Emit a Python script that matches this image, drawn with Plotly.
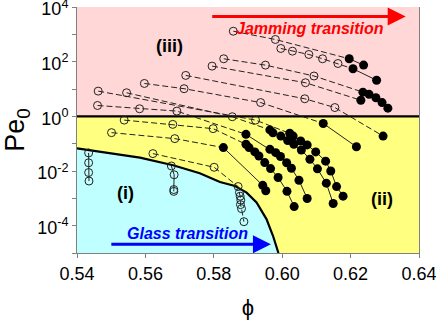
import plotly.graph_objects as go

# limiti del diagramma
phi_min, phi_max = 0.54, 0.64
pe_min, pe_max = 1e-5, 1e4

# confine della regione vetrosa (i)
boundary_phi = [0.540, 0.5487, 0.5584, 0.5681, 0.5759, 0.5818, 0.5862, 0.5896, 0.5925, 0.5954, 0.5973, 0.5989]
boundary_pe = [0.0676, 0.0468, 0.0309, 0.0162, 0.00832, 0.00398, 0.00282, 0.00162, 0.000708, 0.000174, 4.27e-5, 1e-5]

# serie: punti aperti (linea tratteggiata) e punti pieni (linea continua)
s1_open_phi = [0.5857, 0.5980]
s1_open_pe = [1306, 650]
s1_fill_phi = [0.6196, 0.6238]
s1_fill_pe = [128, 75]

s2_open_phi = [0.5996, 0.6030, 0.6078, 0.6118, 0.6163]
s2_open_pe = [305, 243, 184, 128, 86]
s2_fill_phi = [0.6207, 0.6276]
s2_fill_pe = [55, 21]

s3_open_phi = [0.5829, 0.5951, 0.6093]
s3_open_pe = [128, 75, 30]
s3_fill_phi = [0.6236, 0.6254, 0.6274, 0.6292, 0.6309]
s3_fill_pe = [7.7, 6.4, 4.8, 3.2, 2.0]

s4_open_phi = [0.5795, 0.6068]
s4_open_pe = [69, 17]
s4_fill_phi = [0.6230]
s4_fill_pe = [3.9]

s5_open_phi = [0.5718, 0.6066, 0.6154]
s5_open_pe = [31.5, 4.4, 2.1]
s5_fill_phi = [0.6295]
s5_fill_pe = [0.19]

s6_open_phi = [0.5597, 0.5713, 0.5937]
s6_open_pe = [16, 10.3, 3.2]
s6_fill_phi = [0.6120, 0.6217]
s6_fill_pe = [0.55, 0.077]

s7_open_phi = [0.5462, 0.5922]
s7_open_pe = [8.4, 0.73]
s7_fill_phi = [0.6022, 0.6032, 0.6054, 0.6073, 0.6098, 0.6127, 0.6142, 0.6159, 0.6178]
s7_fill_pe = [0.24, 0.19, 0.125, 0.09, 0.05, 0.023, 0.010, 0.0027, 0.0012]

s8_open_phi = [0.5545, 0.5854]
s8_open_pe = [7.3, 0.97]
s8_fill_phi = [0.5964, 0.5973, 0.5996, 0.6016, 0.6034, 0.6056, 0.6081, 0.6103, 0.6129, 0.6149]
s8_fill_pe = [0.32, 0.25, 0.19, 0.13, 0.095, 0.059, 0.027, 0.012, 0.0036, 0.00065]

s9_open_phi = [0.5460, 0.5583, 0.5692]
s9_open_pe = [2.5, 1.9, 1.56]
s9_fill_phi = [0.5894, 0.5964, 0.5981, 0.5995, 0.6013, 0.6027, 0.6049, 0.6073]
s9_fill_pe = [0.22, 0.062, 0.047, 0.034, 0.020, 0.0126, 0.0046, 0.00099]

s10_open_phi = [0.5538, 0.5680, 0.5798]
s10_open_pe = [0.73, 0.51, 0.355]
s10_fill_phi = [0.5894, 0.5903, 0.5920, 0.5932, 0.5949, 0.5966, 0.5988, 0.6014, 0.6035]
s10_fill_pe = [0.095, 0.072, 0.050, 0.0355, 0.0204, 0.0123, 0.0058, 0.0018, 0.0005]

s11_open_phi = [0.5501, 0.5686]
s11_open_pe = [0.254, 0.153]
s11_fill_phi = [0.5828, 0.5943, 0.5952]
s11_fill_pe = [0.072, 0.0030, 0.0019]

s12_open_phi = [0.5622, 0.5801, 0.5871, 0.5875, 0.5877, 0.5879, 0.5878, 0.5881, 0.5888]
s12_open_pe = [0.0434, 0.0137, 0.0027, 0.00163, 0.0012, 0.00086, 0.00059, 0.00042, 0.00014]
s12_fill_phi = []
s12_fill_pe = []

# colonne verticali nella regione (i)
v1_phi = [0.5434, 0.5434, 0.5434, 0.5435]
v1_pe = [0.046, 0.020, 0.0088, 0.0043]
v2_phi = [0.5676, 0.5684, 0.5683, 0.5683]
v2_pe = [0.0153, 0.0073, 0.0021, 0.0018]

series = [
    (s1_open_phi, s1_open_pe, s1_fill_phi, s1_fill_pe),
    (s2_open_phi, s2_open_pe, s2_fill_phi, s2_fill_pe),
    (s3_open_phi, s3_open_pe, s3_fill_phi, s3_fill_pe),
    (s4_open_phi, s4_open_pe, s4_fill_phi, s4_fill_pe),
    (s5_open_phi, s5_open_pe, s5_fill_phi, s5_fill_pe),
    (s6_open_phi, s6_open_pe, s6_fill_phi, s6_fill_pe),
    (s7_open_phi, s7_open_pe, s7_fill_phi, s7_fill_pe),
    (s8_open_phi, s8_open_pe, s8_fill_phi, s8_fill_pe),
    (s9_open_phi, s9_open_pe, s9_fill_phi, s9_fill_pe),
    (s10_open_phi, s10_open_pe, s10_fill_phi, s10_fill_pe),
    (s11_open_phi, s11_open_pe, s11_fill_phi, s11_fill_pe),
    (s12_open_phi, s12_open_pe, s12_fill_phi, s12_fill_pe),
]

FONT = "Arial, 'Liberation Sans', sans-serif"
fig = go.Figure()

# regioni colorate
fig.add_trace(go.Scatter(x=[phi_min, phi_max, phi_max, phi_min], y=[1, 1, pe_max, pe_max],
                         fill="toself", fillcolor="#FFD7D7", line=dict(width=0), mode="lines", hoverinfo="skip"))
fig.add_trace(go.Scatter(x=[phi_min, phi_max, phi_max, phi_min], y=[pe_min, pe_min, 1, 1],
                         fill="toself", fillcolor="#FFFF80", line=dict(width=0), mode="lines", hoverinfo="skip"))
fig.add_trace(go.Scatter(x=boundary_phi + [phi_min], y=boundary_pe + [pe_min],
                         fill="toself", fillcolor="#BFFFFF", line=dict(width=0), mode="lines", hoverinfo="skip"))
fig.add_trace(go.Scatter(x=boundary_phi, y=boundary_pe, mode="lines",
                         line=dict(color="black", width=2.2), hoverinfo="skip"))
fig.add_trace(go.Scatter(x=[phi_min, phi_max], y=[1, 1], mode="lines",
                         line=dict(color="black", width=2.2), hoverinfo="skip"))

# linee delle serie
for op, oe, fp, fe in series:
    dx = op + fp[:1]
    dy = oe + fe[:1]
    fig.add_trace(go.Scatter(x=dx, y=dy, mode="lines",
                             line=dict(color="#222222", width=1, dash="6px,3px")))
    if len(fp) > 1:
        fig.add_trace(go.Scatter(x=fp, y=fe, mode="lines", line=dict(color="#222222", width=1)))
for vp, ve in [(v1_phi, v1_pe), (v2_phi, v2_pe)]:
    fig.add_trace(go.Scatter(x=vp, y=ve, mode="lines", line=dict(color="#222222", width=1)))

# marcatori
for op, oe, fp, fe in series:
    fig.add_trace(go.Scatter(x=op, y=oe, mode="markers",
                             marker=dict(symbol="circle-open", size=8, color="#222222", line=dict(width=1))))
    if fp:
        fig.add_trace(go.Scatter(x=fp, y=fe, mode="markers",
                                 marker=dict(symbol="circle", size=9, color="black")))
for vp, ve in [(v1_phi, v1_pe), (v2_phi, v2_pe)]:
    fig.add_trace(go.Scatter(x=vp, y=ve, mode="markers",
                             marker=dict(symbol="circle-open", size=8, color="#222222", line=dict(width=1))))

# testi e frecce
labels = [("(iii)", 0.5670, 2.59), ("(i)", 0.5541, -2.82), ("(ii)", 0.6292, -3.03)]
for txt, lx, ly in labels:
    fig.add_annotation(x=lx, y=ly, text="<b>%s</b>" % txt, showarrow=False,
                       font=dict(family=FONT, size=18, color="black"))
fig.add_annotation(x=0.6081, y=3.20, text="<b><i>Jamming transition</i></b>", showarrow=False,
                   font=dict(family=FONT, size=16, color="#FF0000"))
fig.add_annotation(x=0.5724, y=-4.27, text="<b><i>Glass transition</i></b>", showarrow=False,
                   font=dict(family=FONT, size=16, color="#0000FF"))
fig.add_annotation(x=0.6361, y=3.653, ax=0.5791, ay=3.653, axref="x", ayref="y", text="",
                   showarrow=True, arrowhead=2, arrowsize=1.2, arrowwidth=3, arrowcolor="#FF0000")
fig.add_annotation(x=0.5967, y=-4.676, ax=0.5496, ay=-4.676, axref="x", ayref="y", text="",
                   showarrow=True, arrowhead=2, arrowsize=1.2, arrowwidth=3, arrowcolor="#0000FF")

ytick_vals = [1e-4, 1e-2, 1, 100, 1e4]
ytick_text = ["10<sup>-4</sup>", "10<sup>-2</sup>", "10<sup>0</sup>", "10<sup>2</sup>", "10<sup>4</sup>"]
yminor_vals = [1e-5, 1e-3, 1e-1, 10, 1e3]

fig.update_layout(
    width=436, height=320,
    margin=dict(l=77, r=17, t=7, b=67),
    paper_bgcolor="white", plot_bgcolor="white",
    showlegend=False,
    font=dict(family=FONT, color="black"),
    xaxis=dict(range=[phi_min, phi_max], tickvals=[0.54, 0.56, 0.58, 0.60, 0.62, 0.64],
               ticktext=["0.54", "0.56", "0.58", "0.60", "0.62", "0.64"], automargin=False,
               ticklabeloverflow="allow",
               ticks="outside", ticklen=4, tickcolor="#808080", showline=True, linecolor="#808080",
               showgrid=False, zeroline=False, tickfont=dict(size=18),
               title=dict(text="ϕ", font=dict(size=22), standoff=20)),
    yaxis=dict(type="log", range=[-5, 4.002], tickvals=ytick_vals, ticktext=ytick_text, automargin=False,
               ticklabeloverflow="allow", ticklabelshift=2,
               ticks="outside", ticklen=4, tickcolor="#808080", showline=True, mirror=True,
               minor=dict(tickvals=yminor_vals, ticks="outside", ticklen=4, tickcolor="#808080", showgrid=False),
               linecolor="#808080", showgrid=False, zeroline=False, tickfont=dict(size=18),
               title=dict(text="Pe<sub>0</sub>", font=dict(size=27), standoff=4)),
)

# niente margine della pagina, la figura parte dall'angolo
fig.write_html("out.html", config={"displayModeBar": False},
               post_script="document.body.style.margin='0';")
